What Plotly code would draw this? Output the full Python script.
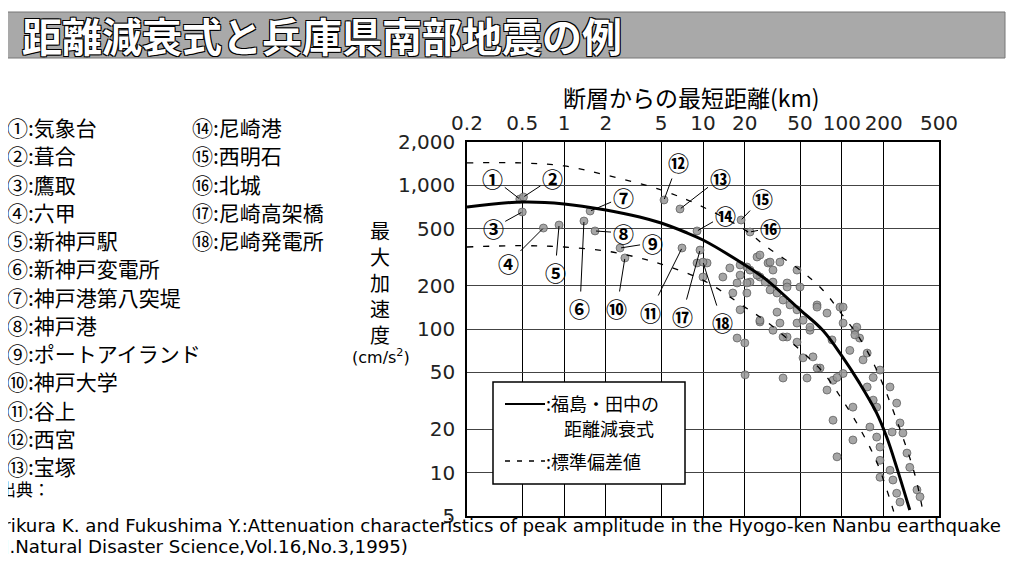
"""
Attenuation relation vs. Hyogo-ken Nanbu earthquake records
(peak ground acceleration against shortest distance to the fault)
"""
import numpy as np
import plotly.graph_objects as go

# Fukushima-Tanaka attenuation curve
curve_dist = [0.2, 0.5, 1, 2, 3.5, 5, 7.4, 10, 20, 28.8, 50, 72.8, 101, 134, 178, 210, 248, 308]
curve_pga = [706, 765, 742, 673, 602, 546, 473, 416, 279, 219, 136, 98, 64, 42, 26, 17.7, 10.9, 5.5]

# +/- one standard deviation (dashed)
upper_dist = [0.2, 0.5, 1, 2, 5, 10, 20, 28.8, 50, 72.8, 101, 134, 178, 248, 336, 384]
upper_pga = [1430, 1430, 1362, 1179, 927, 706, 489, 372, 257, 187, 125, 86.5, 51.8, 23.2, 9.6, 5.3]
lower_dist = [0.2, 0.5, 1, 2, 3.5, 5, 10, 20, 28.8, 50, 72.8, 101, 134, 178, 222, 241]
lower_pga = [372, 380, 372, 349, 312, 283, 219, 142, 112, 71.4, 50.2, 32, 20.5, 11.9, 6.5, 5]

# numbered stations
station_no = ["①", "②", "③", "④", "⑤", "⑥", "⑦", "⑧", "⑨",
              "⑩", "⑪", "⑫", "⑬", "⑭", "⑮", "⑯", "⑰", "⑱"]
station_name = ["気象台", "葺合", "鷹取", "六甲", "新神戸駅", "新神戸変電所",
                "神戸港第八突堤", "神戸港", "ポートアイランド", "神戸大学", "谷上",
                "西宮", "宝塚", "尼崎港", "西明石", "北城", "尼崎高架橋", "尼崎発電所"]
station_dist = [0.48, 0.51, 0.50, 0.71, 0.92, 1.39, 1.54, 1.67, 2.53,
                2.74, 7.06, 5.24, 6.83, 9.06, 18.8, 21.8, 9.52, 10.0]
station_pga = [802, 829, 652, 504, 529, 564, 662, 481, 366,
               312, 366, 790, 684, 481, 573, 473, 354, 292]

# other observed records
obs_dist = [9.06, 10.0, 10.7, 15.6, 18.5, 21.8, 24.5, 25.7, 29.4, 31.9, 40.3, 47.5,
            13.9, 16.4, 20.7, 25.7, 30.4, 35.8, 40.3, 17.6, 18.5, 17.6, 20, 25.7,
            34.1, 35.8, 40.3, 47.5, 49.9, 66.2, 78.1, 96.9, 102, 124, 134, 61.9,
            52.5, 69.6, 78.1, 37.7, 56.1, 86.3, 102, 142, 188, 168, 152, 222,
            168, 178, 248, 262, 275, 120, 86.3, 159, 178, 120, 92.2, 188, 294, 308,
            222, 188, 233, 248, 262, 347, 365, 230, 188, 20.7, 31.9, 20.7, 25.7,
            31.9, 37.7, 47.5, 58.9, 66.2, 102, 128, 124, 84.9, 114, 152, 66.2,
            92.2, 20.1, 21.8, 24.5, 28, 30.4, 34.1, 37.7, 42.3, 47.5, 52.5, 58.9, 18.5]
obs_pga = [288, 230, 288, 266, 237, 212, 317, 230, 288, 212, 209, 257,
           230, 178, 209, 327, 292, 292, 196, 209, 136, 86.5, 80, 112,
           131, 110, 88, 81, 196, 147, 129, 142, 110, 98, 86.5, 64,
           63, 53.5, 37.6, 45.6, 45.6, 44, 49, 61, 51.8, 46, 39.5, 39.5,
           32, 28.6, 30.5, 22.2, 18.9, 28.6, 23.2, 20.8, 17.7, 16.9, 12.9, 12.2, 13.7, 10.9,
           10.4, 9.3, 8.9, 7.2, 6.25, 7.6, 6.8, 19.2, 15.1, 270, 257, 178, 115,
           98, 88, 110, 98, 142, 142, 103, 91, 84, 71, 68, 53.5,
           46, 48, 257, 237, 212, 187, 178, 159, 147, 136, 115, 103, 279]

x_ticks = [0.2, 0.5, 1, 2, 5, 10, 20, 50, 100, 200, 500]
x_tick_text = ["0.2", "0.5", "1", "2", "5", "10", "20", "50", "100", "200", "500"]
y_ticks = [5, 10, 20, 50, 100, 200, 500, 1000, 2000]
y_tick_text = ["5", "10", "20", "50", "100", "200", "500", "1,000", "2,000"]

# label offsets (pixels) from each station point to its circled number
label_dx = [-27, 29, -29, -35, -4, -4, 33, 28, 32, -8, -32, 14, 40, 28, 21, 20, -18, 19]
label_dy = [-21, -19, 16, 35, 47, 87, -14, 2, -5, 50, 64, -38, -31, -16, -22, -4, 66, 60]

# the page body has an 8px margin, so the figure is shrunk and shifted by that much
OFF = 8
W, H = 1017 - 2 * OFF, 570 - 2 * OFF
L, R, T, B = 467, 939, 142, 516   # plot frame in screen pixels
JP = "Noto Sans CJK JP"


def px(x):
    return (x - L) / (R - L)


def py(y):
    return (B - y) / (B - T)


def note(x, y, text, size, xa="center", family=JP, color="black", **kw):
    return dict(x=px(x), y=py(y), xref="paper", yref="paper", text=text,
                showarrow=False, xanchor=xa, yanchor="middle",
                font=dict(family=family, size=size, color=color, **kw))


fig = go.Figure()
gray = dict(size=8, color="rgba(150,150,150,0.85)", line=dict(width=0.7, color="#555"))
fig.add_trace(go.Scatter(x=obs_dist, y=obs_pga, mode="markers", marker=gray))
fig.add_trace(go.Scatter(x=station_dist, y=station_pga, mode="markers", marker=gray))
fig.add_trace(go.Scatter(x=upper_dist, y=upper_pga, mode="lines", line_shape="spline",
                         line=dict(color="black", width=1.3, dash="6px,10px")))
fig.add_trace(go.Scatter(x=lower_dist, y=lower_pga, mode="lines", line_shape="spline",
                         line=dict(color="black", width=1.3, dash="6px,10px")))
fig.add_trace(go.Scatter(x=curve_dist, y=curve_pga, mode="lines", line_shape="spline",
                         line=dict(color="black", width=3)))

ann = []
for i in range(len(station_no)):
    ann.append(dict(x=np.log10(station_dist[i]), y=np.log10(station_pga[i]),
                    xref="x", yref="y", text="<b>" + station_no[i] + "</b>", showarrow=True,
                    arrowhead=0, arrowwidth=1, arrowcolor="black",
                    ax=label_dx[i], ay=label_dy[i], standoff=1,
                    xanchor="center", yanchor="middle",
                    font=dict(family=JP, size=21, color="black")))

# station list on the left
for i in range(len(station_no)):
    col = 0 if i < 13 else 1
    row = i if i < 13 else i - 13
    ann.append(note(5 + col * 185, 127 + row * 28.25, station_no[i] + ":" + station_name[i],
                    21, xa="left"))

# title banner
ann.append(note(20, 35, "<b>距離減衰式と兵庫県南部地震の例</b>", 40, xa="left", color="white",
                shadow="1px 1px 0 #000, -1px -1px 0 #000, 1px -1px 0 #000, -1px 1px 0 #000"))

# axis titles
ann.append(note(691, 97, "断層からの最短距離(km)", 23))
ann.append(note(380, 282, "最<br>大<br>加<br>速<br>度", 20))
ann.append(note(381, 356, "(cm/s<sup>2</sup>)", 16, family="DejaVu Sans"))

# legend box text
ann.append(note(544, 403, ":福島・田中の", 18, xa="left"))
ann.append(note(562, 428, "距離減衰式", 18, xa="left"))
ann.append(note(544, 461, ":標準偏差値", 18, xa="left"))

# source
ann.append(note(-3, 488, "出典：", 17, xa="left"))
ann.append(note(-4, 525, "Irikura K. and Fukushima Y.:Attenuation characteristics of peak "
                         "amplitude in the Hyogo-ken Nanbu earthquake", 18.2, xa="left",
                family="DejaVu Sans"))
ann.append(note(-5, 546, "(J.Natural Disaster Science,Vol.16,No.3,1995)", 18.2, xa="left",
                family="DejaVu Sans"))

shapes = [
    dict(type="rect", xref="paper", yref="paper", x0=px(5), x1=px(1005), y0=py(58), y1=py(12),
         fillcolor="#a9a9a9", line=dict(color="#777", width=1), layer="below"),
    dict(type="rect", xref="paper", yref="paper", x0=px(493), x1=px(685), y0=py(484), y1=py(382),
         fillcolor="white", line=dict(color="black", width=1.5), layer="above"),
    dict(type="line", xref="paper", yref="paper", x0=px(505), x1=px(545), y0=py(404), y1=py(404),
         line=dict(color="black", width=2)),
    dict(type="line", xref="paper", yref="paper", x0=px(505), x1=px(545), y0=py(461), y1=py(461),
         line=dict(color="black", width=1.3, dash="5px,7px")),
]

fig.update_layout(
    width=W, height=H, autosize=False,
    margin=dict(l=L - OFF, r=W - (R - OFF), t=T - OFF, b=H - (B - OFF), pad=0),
    paper_bgcolor="white", plot_bgcolor="white",
    showlegend=False, annotations=ann, shapes=shapes,
    xaxis=dict(type="log", range=[np.log10(0.2), np.log10(500)], side="top",
               tickvals=x_ticks, ticktext=x_tick_text, ticks="", ticklabelstandoff=2,
               tickfont=dict(family="DejaVu Sans", size=20, color="#222"),
               showgrid=True, gridcolor="black", gridwidth=1.3,
               showline=True, mirror=True, linecolor="black", linewidth=1.5, zeroline=False),
    yaxis=dict(type="log", range=[np.log10(5), np.log10(2000)],
               tickvals=y_ticks, ticktext=y_tick_text, ticks="", ticklabelstandoff=6,
               tickfont=dict(family="DejaVu Sans", size=20, color="#222"),
               showgrid=True, gridcolor="#444", gridwidth=1,
               showline=True, mirror=True, linecolor="black", linewidth=1.5, zeroline=False),
)

fig.write_html("out.html")
